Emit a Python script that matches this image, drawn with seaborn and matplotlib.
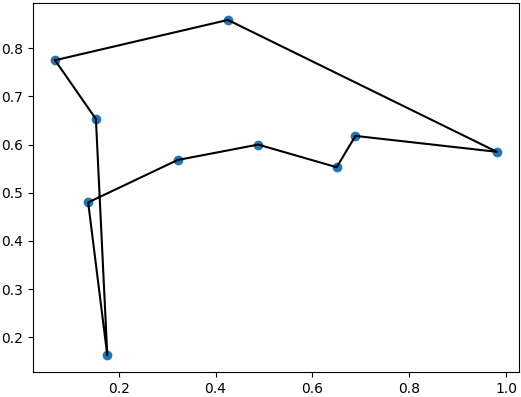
import pandas as pd
import seaborn as sns
import matplotlib
matplotlib.use("Agg")
import matplotlib.pyplot as plt

# tour order, closed loop back to the first city
x = [0.0687, 0.153, 0.1765, 0.137, 0.3216, 0.488, 0.650, 0.6887, 0.9806, 0.4254]
y = [0.775, 0.653, 0.163, 0.480, 0.568, 0.600, 0.553, 0.618, 0.585, 0.8586]

cities = pd.DataFrame({"x": x, "y": y})
tour = pd.concat([cities, cities.iloc[[0]]], ignore_index=True)

fig, ax = plt.subplots(figsize=(5.21, 3.97), dpi=100)
fig.subplots_adjust(left=0.0633, right=0.996, bottom=0.063, top=0.992)

sns.scatterplot(data=cities, x="x", y="y", ax=ax, color="C0", s=36,
                edgecolor="face", linewidth=1.0, zorder=2)
sns.lineplot(data=tour, x="x", y="y", ax=ax, sort=False, estimator=None, color="black",
             linewidth=1.5, zorder=3)
ax.set_xlabel("")
ax.set_ylabel("")

plt.savefig("out.png", dpi=100)
